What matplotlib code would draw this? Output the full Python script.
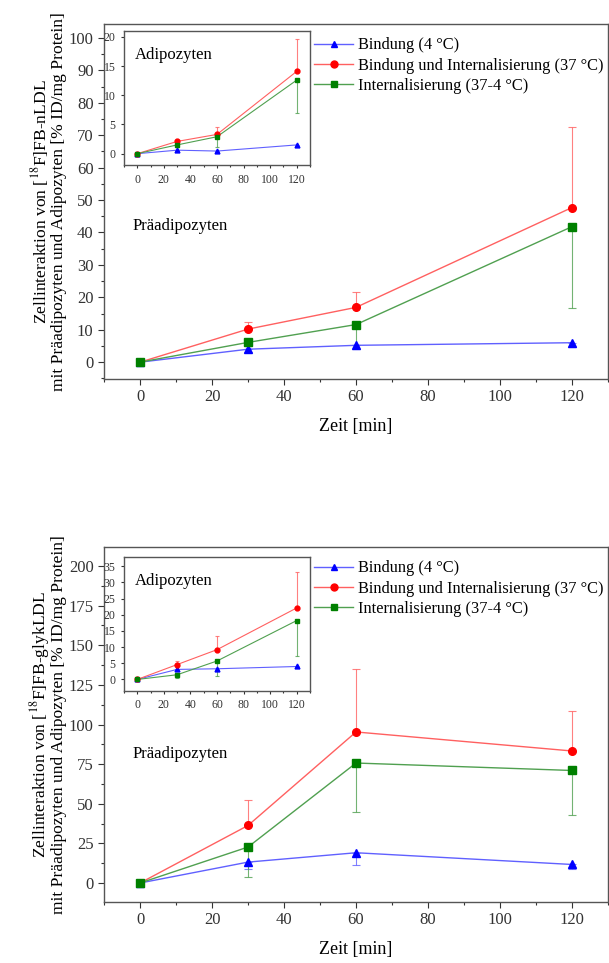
import matplotlib
matplotlib.use('Agg')
import matplotlib.pyplot as plt
from matplotlib.ticker import MultipleLocator

plt.rcParams['font.family'] = ['Liberation Serif', 'DejaVu Serif']
plt.rcParams['mathtext.fontset'] = 'stix'

zeit = [0, 30, 60, 120]
labels = ['Bindung (4 °C)', 'Bindung und Internalisierung (37 °C)',
          'Internalisierung (37-4 °C)']

# nLDL, Praeadipozyten
n_bind = [0, 4.0, 5.2, 6.0]
n_bind_err = [0.4, 1.0, 1.0, 1.2]
n_bi = [0, 10.2, 16.9, 47.7]
n_bi_err = [0.5, 2.2, 4.6, 24.9]
n_int = [0, 6.1, 11.6, 41.8]
n_int_err = [0.4, 1.2, 6.4, 25.0]

# nLDL, Adipozyten
n_ad_bind = [0, 0.6, 0.45, 1.5]
n_ad_bind_err = [0.1, 0.2, 0.2, 0.2]
n_ad_bi = [0, 2.1, 3.3, 14.1]
n_ad_bi_err = [0.1, 0.3, 1.3, 5.6]
n_ad_int = [0, 1.5, 2.9, 12.6]
n_ad_int_err = [0.1, 0.3, 1.7, 5.7]

# glykLDL, Praeadipozyten
g_bind = [0, 13.2, 19.1, 11.7]
g_bind_err = [1.0, 4.2, 8.0, 3.1]
g_bi = [0, 36.3, 95.3, 83.3]
g_bi_err = [1.0, 15.8, 40.0, 25.0]
g_int = [0, 22.7, 75.7, 71.0]
g_int_err = [1.0, 18.9, 30.9, 28.3]

# glykLDL, Adipozyten
g_ad_bind = [0, 3.1, 3.3, 4.0]
g_ad_bind_err = [0.2, 0.5, 0.3, 0.4]
g_ad_bi = [0, 4.6, 9.2, 22.1]
g_ad_bi_err = [0.2, 1.0, 4.2, 11.0]
g_ad_int = [0, 1.45, 5.7, 18.2]
g_ad_int_err = [0.2, 1.0, 4.5, 11.1]

colors = ['#0000ff', '#ff0000', '#008000']
lcolors = ['#6060ff', '#ff6060', '#50a050']
markers = ['^', 'o', 's']


def draw(ax, series, ms, lw, cs):
    # series: list of (values, errors, side)
    for i, (vals, err, side) in enumerate(series):
        if side == 'up':
            yerr = [[0] * len(err), err]
        else:
            yerr = [err, [0] * len(err)]
        ax.errorbar(zeit, vals, yerr=yerr, fmt='none', ecolor=lcolors[i],
                    elinewidth=0.8, capsize=cs, capthick=0.8, alpha=0.8)
        ax.plot(zeit, vals, color=lcolors[i], lw=lw, zorder=3)
        ax.plot(zeit, vals, ls='', marker=markers[i], color=colors[i],
                ms=ms, zorder=4)


def style(ax, fs, tl):
    ax.tick_params(direction='out', labelsize=fs, length=tl, width=0.8,
                   top=False, right=False)
    ax.tick_params(which='minor', direction='out', length=tl * 0.6,
                   width=0.8, top=False, right=False)
    for s in ax.spines.values():
        s.set_color('#555555')
        s.set_linewidth(1.0)
    ax.tick_params(colors='#333333', which='both')


fig = plt.figure(figsize=(6.09, 9.63), dpi=100)

panels = [
    dict(main=[(n_bind, n_bind_err, 'down'), (n_bi, n_bi_err, 'up'),
               (n_int, n_int_err, 'down')],
         ins=[(n_ad_bind, n_ad_bind_err, 'down'), (n_ad_bi, n_ad_bi_err, 'up'),
              (n_ad_int, n_ad_int_err, 'down')],
         bottom=0.6064, ylim=(-5.2, 104.3), ymaj=10, ymin=5,
         ins_bottom=0.8283, ins_ylim=(-2, 21), ins_maj=5,
         lab='Zellinteraktion von [$^{18}$F]FB-nLDL', praey=0.42),
    dict(main=[(g_bind, g_bind_err, 'down'), (g_bi, g_bi_err, 'up'),
               (g_int, g_int_err, 'down')],
         ins=[(g_ad_bind, g_ad_bind_err, 'down'), (g_ad_bi, g_ad_bi_err, 'up'),
              (g_ad_int, g_ad_int_err, 'down')],
         bottom=0.0633, ylim=(-12, 212), ymaj=25, ymin=12.5,
         ins_bottom=0.2827, ins_ylim=(-3.5, 38), ins_maj=5,
         lab='Zellinteraktion von [$^{18}$F]FB-glykLDL', praey=0.405),
]

for p in panels:
    ax = fig.add_axes([0.1708, p['bottom'], 0.8276, 0.3687])
    draw(ax, p['main'], 5.5, 1.0, 3)
    ax.set_xlim(-10, 130)
    ax.set_ylim(*p['ylim'])
    ax.xaxis.set_major_locator(MultipleLocator(20))
    ax.xaxis.set_minor_locator(MultipleLocator(10))
    ax.yaxis.set_major_locator(MultipleLocator(p['ymaj']))
    ax.yaxis.set_minor_locator(MultipleLocator(p['ymin']))
    style(ax, 12, 4)
    ax.set_xlabel('Zeit [min]', fontsize=13, labelpad=9)
    ax.text(0.057, p['praey'], 'Präadipozyten', transform=ax.transAxes,
            fontsize=12)

    # legend handles
    hs = []
    for i in range(3):
        h, = ax.plot([], [], color=lcolors[i], marker=markers[i],
                     mfc=colors[i], mec=colors[i], ms=5, lw=1.0)
        hs.append(h)
    yl = p['bottom'] + 0.3687
    fig.legend(hs, labels, loc='upper left',
               bbox_to_anchor=(0.505, yl - 0.007), frameon=False,
               fontsize=11.8, handlelength=2.4, handletextpad=0.25,
               labelspacing=0.26, borderaxespad=0)

    ins = fig.add_axes([0.2036, p['ins_bottom'], 0.3054, 0.1394])
    draw(ins, p['ins'], 3.5, 0.8, 1.5)
    ins.set_xlim(-10, 130)
    ins.set_ylim(*p['ins_ylim'])
    ins.xaxis.set_major_locator(MultipleLocator(20))
    ins.xaxis.set_minor_locator(MultipleLocator(10))
    ins.yaxis.set_major_locator(MultipleLocator(p['ins_maj']))
    style(ins, 8.5, 2.5)
    ins.text(0.06, 0.79, 'Adipozyten', transform=ins.transAxes, fontsize=12)

    yc = p['bottom'] + 0.3687 / 2
    fig.text(0.066, yc, p['lab'], rotation=90, ha='center', va='center',
             fontsize=12.6)
    fig.text(0.097, yc, 'mit Präadipozyten und Adipozyten [% ID/mg Protein]',
             rotation=90, ha='center', va='center', fontsize=12.6)

fig.savefig('out.png', dpi=100)
